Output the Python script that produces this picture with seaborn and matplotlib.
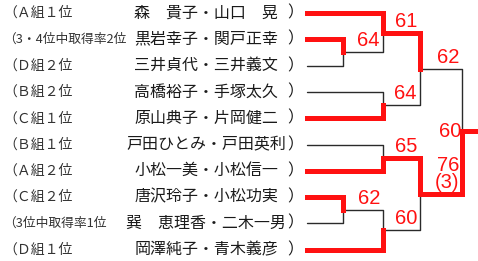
import numpy as np
import pandas as pd
import matplotlib
matplotlib.use("Agg")
import matplotlib.pyplot as plt
import seaborn as sns

# ---------------- data ----------------
seeds = ["（Ａ組１位", "（3・4位中取得率2位", "（Ｄ組２位", "（Ｂ組２位", "（Ｃ組１位",
         "（Ｂ組１位", "（Ａ組２位", "（Ｃ組２位", "（3位中取得率1位", "（Ｄ組１位"]
names = ["森　貴子・山口　晃", "黒岩幸子・関戸正幸", "三井貞代・三井義文",
         "高橋裕子・手塚太久", "原山典子・片岡健二", "戸田ひとみ・戸田英利",
         "小松一美・小松信一", "唐沢玲子・小松功実", "巽　恵理香・二木一男",
         "岡澤純子・青木義彦"]
match_ids = ["m1", "m2", "m3", "m4", "m5", "m6", "m7", "m8", "f"]
match_a = [1, 0, 3, "m2", 5, 7, "m6", "m5", "m4"]
match_b = [2, "m1", 4, "m3", 6, 8, 9, "m7", "m8"]
match_winner = ["a", "a", "b", "a", "b", "a", "b", "a", "b"]
match_score = ["64", "61", "64", "62", "65", "62", "60", "76\n(3)", "60"]
match_round = [1, 2, 2, 3, 2, 1, 2, 3, 4]

# ---------------- layout ----------------
ROW_Y0, ROW_DY = 13.0, 26.3
ROUND_X = [307, 343, 383, 420, 462]
CHAMP_X = 480
RED = "#ff1111"
DARK = "#2a2a2a"

sns.set_style("white")
plt.rcParams["font.family"] = ["Noto Sans CJK JP", "DejaVu Sans"]

fig = plt.figure(figsize=(4.78, 2.61), dpi=100)
ax = fig.add_axes([0, 0, 1, 1])

minfo = {m: dict(a=a, b=b, w=w, s=s, r=r) for m, a, b, w, s, r in
         zip(match_ids, match_a, match_b, match_winner, match_score, match_round)}


def y_of(src):
    if isinstance(src, int):
        return ROW_Y0 + ROW_DY * src
    m = minfo[src]
    return (y_of(m["a"]) + y_of(m["b"])) / 2


def x_of(src):
    return ROUND_X[0] if isinstance(src, int) else ROUND_X[minfo[src]["r"]]


rows = []
seg = 0
for mid in match_ids:
    m = minfo[mid]
    xm = ROUND_X[m["r"]]
    yo = y_of(mid)
    for side in ("a", "b"):
        src = m[side]
        yi = y_of(src)
        for (px, py) in [(x_of(src), yi), (xm, yi), (xm, yo)]:
            rows.append(dict(seg=seg, x=px, y=py, win=(side == m["w"])))
        seg += 1
yf = y_of("f")
for px in (ROUND_X[4], CHAMP_X):
    rows.append(dict(seg=seg, x=px, y=yf, win=True))
df = pd.DataFrame(rows)

sns.lineplot(data=df[~df["win"]], x="x", y="y", units="seg", estimator=None,
             sort=False, color=DARK, lw=1.0, ax=ax, legend=False)
sns.lineplot(data=df[df["win"]], x="x", y="y", units="seg", estimator=None,
             sort=False, color=RED, lw=3.6, ax=ax, legend=False,
             solid_capstyle="projecting", solid_joinstyle="miter")

# score labels
for mid in match_ids:
    m = minfo[mid]
    yo = y_of(mid)
    if mid == "f":
        ax.text(ROUND_X[4] - 1, yo, m["s"], ha="right", va="center", color=RED,
                fontsize=14.5, family="Liberation Sans")
    else:
        nx = ROUND_X[m["r"] + 1]
        ax.text(nx - 3, yo - 2, m["s"], ha="right", va="bottom", color=RED,
                fontsize=14.5, family="Liberation Sans", linespacing=0.85)

# text columns
for i, (sd, nm) in enumerate(zip(seeds, names)):
    y = ROW_Y0 + ROW_DY * i
    small = len(sd) > 6
    ax.text(3, y, sd, ha="left", va="center", color="#333333",
            fontsize=9.2 if small else 10.0)
    ax.text(206, y, nm, ha="center", va="center", color="#1a1a1a", fontsize=11.5)
    ax.text(287, y, "）", ha="left", va="center", color="#1a1a1a", fontsize=11.5)

ax.set_xlim(0, 478)
ax.set_ylim(261, 0)
ax.axis("off")
fig.savefig("out.png", dpi=100)
